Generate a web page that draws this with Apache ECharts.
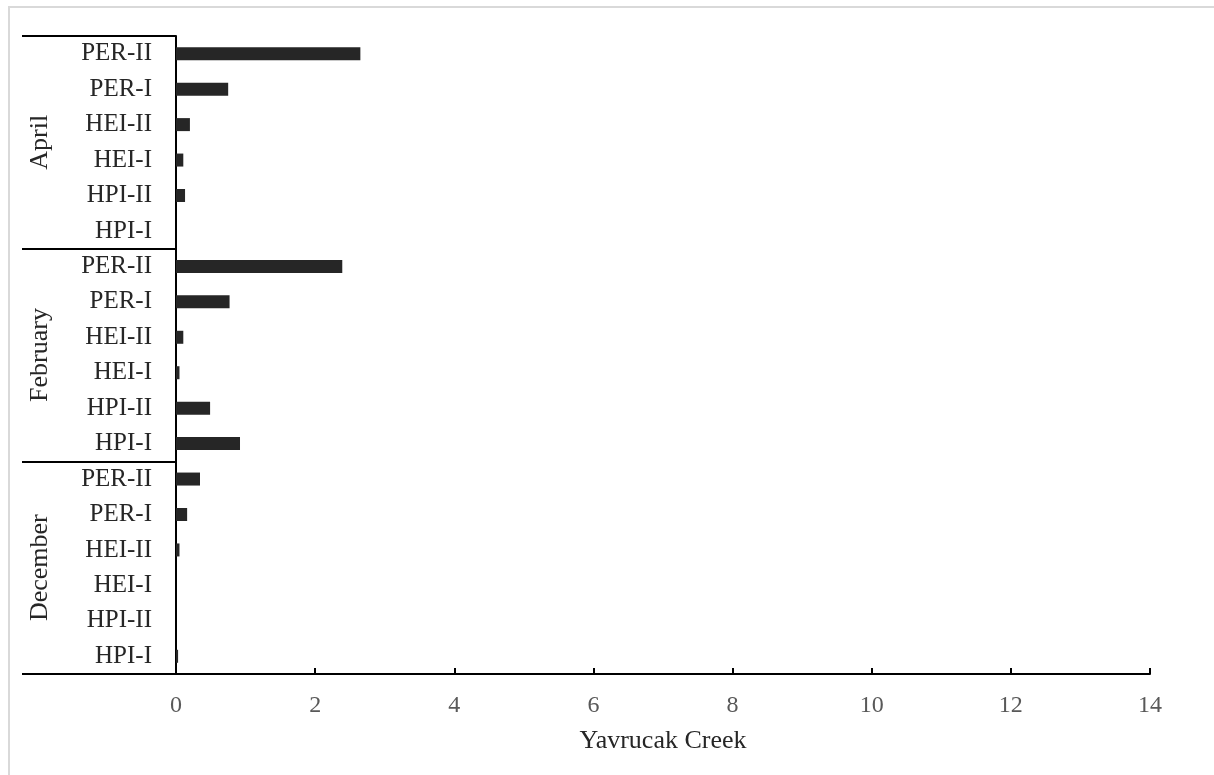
<!DOCTYPE html>
<html>
<head>
<meta charset="utf-8">
<script src="https://cdn.jsdelivr.net/npm/echarts@6/dist/echarts.min.js"></script>
<style>
html,body{margin:0;padding:0;background:#fff;}
#frame{position:absolute;left:8px;top:6px;width:1206px;height:769px;border-top:2px solid #d9d9d9;border-left:2px solid #d9d9d9;box-sizing:border-box;}
#chart{position:absolute;left:0;top:0;width:1214px;height:775px;}
</style>
</head>
<body>
<div id="frame"></div>
<div id="chart"></div>
<script>
// Data (bottom to top)
const indices = ['HPI-I', 'HPI-II', 'HEI-I', 'HEI-II', 'PER-I', 'PER-II'];
const months = ['December', 'February', 'April'];
const decemberValues = [0.03, 0, 0, 0.05, 0.16, 0.345];
const februaryValues = [0.92, 0.49, 0.05, 0.105, 0.77, 2.39];
const aprilValues = [0, 0.13, 0.105, 0.2, 0.75, 2.65];
const xTicks = [0, 2, 4, 6, 8, 10, 12, 14];
const xAxisTitle = 'Yavrucak Creek';

const categories = [].concat(indices, indices, indices);
const values = [].concat(decemberValues, februaryValues, aprilValues);

const font = '"Liberation Serif", "Times New Roman", serif';
const chart = echarts.init(document.getElementById('chart'));
chart.setOption({
  animation: false,
  backgroundColor: 'transparent',
  grid: { left: 176, right: 64, top: 36, bottom: 101, containLabel: false },
  xAxis: {
    type: 'value',
    min: xTicks[0],
    max: xTicks[xTicks.length - 1],
    interval: 2,
    name: xAxisTitle,
    nameLocation: 'middle',
    nameGap: 54,
    nameTextStyle: { fontFamily: font, fontSize: 26, color: '#262626' },
    axisLine: { show: true, lineStyle: { color: '#000', width: 2 } },
    axisTick: { show: true, inside: true, length: 6, lineStyle: { color: '#000', width: 2 } },
    axisLabel: { fontFamily: font, fontSize: 24, color: '#595959', margin: 20 },
    splitLine: { show: false }
  },
  yAxis: [
    {
      type: 'category',
      data: categories,
      position: 'left',
      axisLine: { show: true, lineStyle: { color: '#000', width: 2 } },
      axisTick: { show: false },
      axisLabel: { fontFamily: font, fontSize: 25, color: '#262626', margin: 24, interval: 0 },
      splitLine: { show: false }
    },
    {
      type: 'category',
      data: months,
      position: 'left',
      offset: 0,
      axisLine: { show: false },
      axisTick: { show: true, length: 154, interval: 0, lineStyle: { color: '#000', width: 2 } },
      axisLabel: { fontFamily: font, fontSize: 26, color: '#262626', rotate: 90, margin: 136, align: 'center', verticalAlign: 'middle', interval: 0 },
      splitLine: { show: false }
    }
  ],
  series: [{
    type: 'bar',
    yAxisIndex: 0,
    data: values,
    barWidth: 13,
    itemStyle: { color: '#262626' }
  }]
});
</script>
</body>
</html>
